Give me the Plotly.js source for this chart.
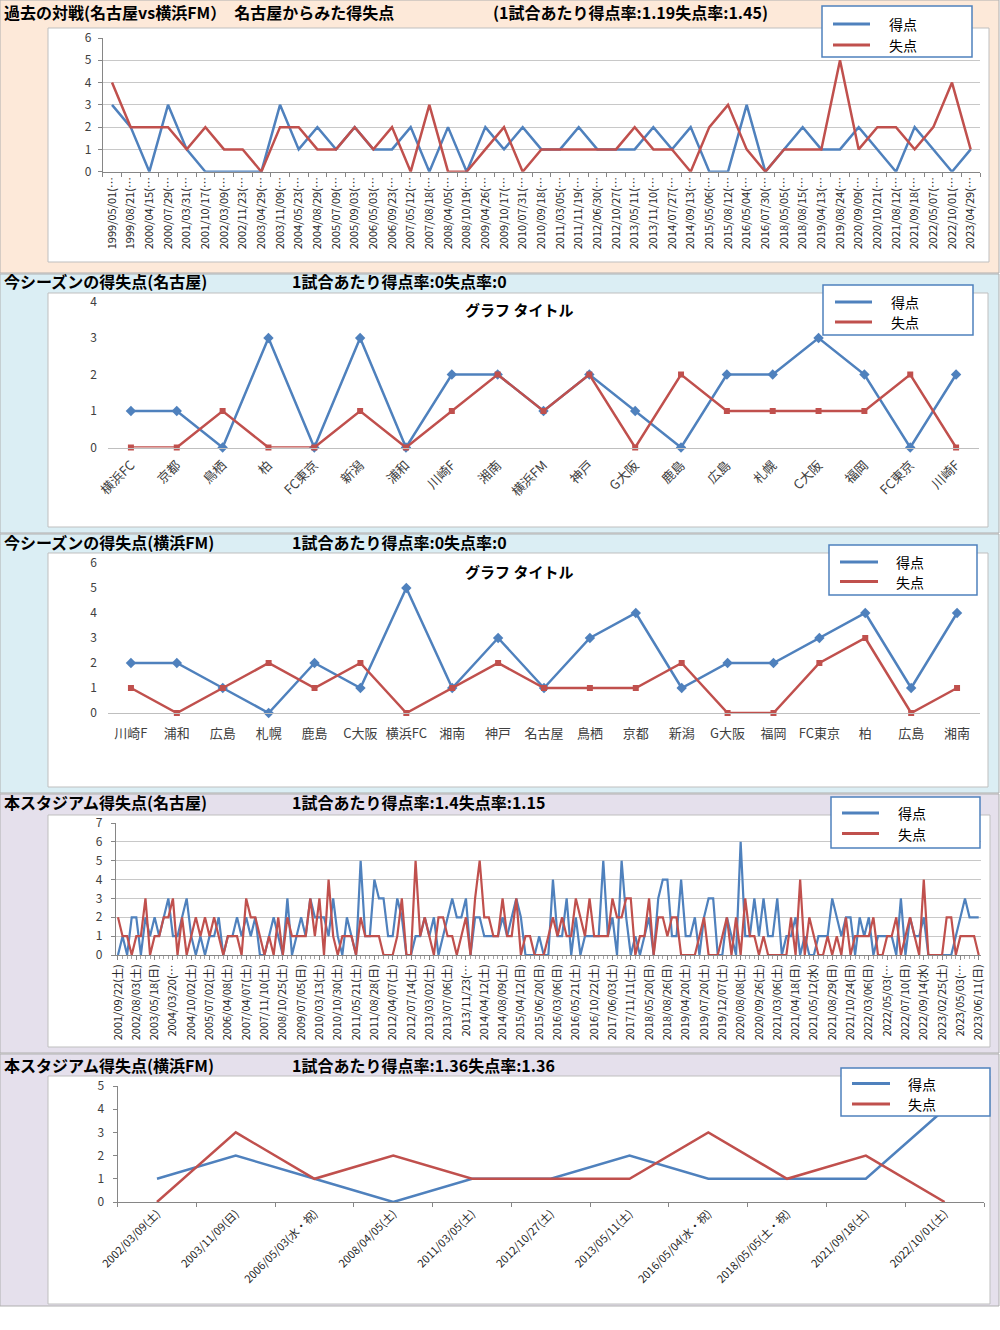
<!DOCTYPE html>
<html><head><meta charset="utf-8">
<script src="https://cdn.plot.ly/plotly-3.0.1.min.js"></script>
<style>html,body{margin:0;padding:0;background:#fff}#chart{width:1000px;height:1330px}</style>
</head><body><div id="chart"></div>
<script>
// ---------- Panel 1: head-to-head history (Nagoya view) ----------
const h2hDates = ["1999/05/01(…","1999/08/21(…","2000/04/15(…","2000/07/29(…","2001/03/31(…","2001/10/17(…","2002/03/09(…","2002/11/23(…","2003/04/29(…","2003/11/09(…","2004/05/23(…","2004/08/29(…","2005/07/09(…","2005/09/03(…","2006/05/03(…","2006/09/23(…","2007/05/12(…","2007/08/18(…","2008/04/05(…","2008/10/19(…","2009/04/26(…","2009/10/17(…","2010/07/31(…","2010/09/18(…","2011/03/05(…","2011/11/19(…","2012/06/30(…","2012/10/27(…","2013/05/11(…","2013/11/10(…","2014/07/27(…","2014/09/13(…","2015/05/06(…","2015/08/12(…","2016/05/04(…","2016/07/30(…","2018/05/05(…","2018/08/15(…","2019/04/13(…","2019/08/24(…","2020/09/09(…","2020/10/21(…","2021/08/12(…","2021/09/18(…","2022/05/07(…","2022/10/01(…","2023/04/29(…"];
const h2hFor     = [3,2,0,3,1,0,0,0,0,3, 1,2,1,2,1,1,2,0,2,0, 2,1,2,1,1,2,1,1,1,2, 1,2,0,0,3,0,1,2,1,1, 2,1,0,2,1,0,1];
const h2hAgainst = [4,2,2,2,1,2,1,1,0,2, 2,1,1,2,1,2,0,3,0,0, 1,2,0,1,1,1,1,1,2,1, 1,0,2,3,1,0,1,1,1,5, 1,2,2,1,2,4,1];

// ---------- Panel 2: this season (Nagoya) ----------
const nagoyaOpp     = ["横浜FC","京都","鳥栖","柏","FC東京","新潟","浦和","川崎F","湘南","横浜FM","神戸","G大阪","鹿島","広島","札幌","C大阪","福岡","FC東京","川崎F"];
const nagoyaFor     = [1,1,0,3,0,3,0,2,2,1,2,1,0,2,2,3,2,0,2];
const nagoyaAgainst = [0,0,1,0,0,1,0,1,2,1,2,0,2,1,1,1,1,2,0];

// ---------- Panel 3: this season (Yokohama FM) ----------
const yfmOpp     = ["川崎F","浦和","広島","札幌","鹿島","C大阪","横浜FC","湘南","神戸","名古屋","鳥栖","京都","新潟","G大阪","福岡","FC東京","柏","広島","湘南"];
const yfmFor     = [2,2,1,0,2,1,5,1,3,1,3,4,1,2,2,3,4,1,4];
const yfmAgainst = [1,0,1,2,1,2,0,1,2,1,1,1,2,0,0,2,3,0,1];

// ---------- Panel 4: this stadium (Nagoya), one label every 4 matches ----------
const stadiumNagoyaLabels = ["2001/09/22(土)","2002/08/03(土)","2003/05/18(日)","2004/03/20(…","2004/10/02(土)","2005/07/02(土)","2006/04/08(土)","2007/04/07(土)","2007/11/10(土)","2008/10/25(土)","2009/07/05(日)","2010/03/13(土)","2010/10/30(土)","2011/05/21(土)","2011/08/28(日)","2012/04/07(土)","2012/07/14(土)","2013/03/02(土)","2013/07/06(土)","2013/11/23(…","2014/04/12(土)","2014/08/09(土)","2015/04/12(日)","2015/06/20(日)","2016/03/06(日)","2016/05/21(土)","2016/10/22(土)","2017/06/03(土)","2017/11/11(土)","2018/05/20(日)","2018/08/26(日)","2019/04/20(土)","2019/07/20(土)","2019/12/07(土)","2020/08/08(土)","2020/09/26(土)","2021/03/06(土)","2021/04/18(日)","2021/05/12(水)","2021/08/29(日)","2021/10/24(日)","2022/03/06(日)","2022/05/03(…","2022/07/10(日)","2022/09/14(水)","2023/02/25(土)","2023/05/03(…","2023/06/11(日)"];
const stadiumNagoyaFor = [
 0,1,0,2,2,0,2,1,2,1, 2,3,1,1,2,3,1,0,1,0, 1,1,2,0,1,1,2,1,2,1, 2,0,0,1,2,1,0,3,0,1,
 2,1,3,2,2,2,1,3,1,0, 2,1,0,5,1,1,4,3,3,1, 1,3,2,0,0,1,1,2,1,2, 0,1,2,3,2,2,3,0,2,2,
 1,1,1,1,2,1,2,3,2,0, 0,0,1,0,0,4,1,1,3,0, 2,0,1,1,1,1,5,1,2,0, 5,2,0,1,0,1,2,0,3,4,
 4,1,1,4,1,1,2,0,2,3, 3,0,0,2,1,0,6,1,1,3, 1,3,1,1,3,0,1,1,2,0, 1,0,0,1,1,1,3,2,1,2,
 2,0,2,1,2,0,1,1,1,1, 0,3,0,2,1,1,2,0,0,0, 0,0,0,1,2,3,2,2,2];
const stadiumNagoyaAgainst = [
 2,1,1,0,1,1,3,0,1,1, 2,2,3,0,2,0,1,2,1,2, 1,2,1,0,1,1,1,0,3,2, 2,1,0,1,0,2,0,2,1,1,
 1,1,3,1,3,0,4,1,0,1, 1,1,0,2,1,1,1,1,0,0, 0,1,3,0,0,5,1,2,1,0, 2,2,1,1,0,1,2,0,3,5,
 2,2,1,1,3,1,1,3,0,1, 1,0,0,0,1,2,1,2,1,1, 3,2,1,3,1,1,1,1,3,2, 2,3,3,0,1,1,3,0,2,2,
 1,2,2,0,0,0,0,1,2,0, 0,0,1,2,0,2,0,3,1,1, 0,1,0,0,0,0,0,2,0,4, 0,2,1,0,0,1,0,1,0,2,
 0,1,1,1,1,2,0,0,1,1, 2,0,1,2,1,0,4,0,0,0, 0,2,2,0,1,1,1,1,0];

// ---------- Panel 5: this stadium (Yokohama FM) ----------
const stadiumYfmDates   = ["2002/03/09(土)","2003/11/09(日)","2006/05/03(水・祝)","2008/04/05(土)","2011/03/05(土)","2012/10/27(土)","2013/05/11(土)","2016/05/04(水・祝)","2018/05/05(土・祝)","2021/09/18(土)","2022/10/01(土)"];
const stadiumYfmFor     = [1,2,1,0,1,1,2,1,1,1,4];
const stadiumYfmAgainst = [0,3,1,2,1,1,1,3,1,2,0];

// ---------- styling ----------
const F = '"Noto Sans CJK JP","Noto Sans",sans-serif';
const BLUE = '#4F81BD', RED = '#C0504D';
const W = 1000, H = 1330;
const px = v => v / W, py = v => 1 - v / H;
const shapes = [], annotations = [];

function rect(x0, y0, x1, y1, fill, line, lw, layer) {
  shapes.push({type:'rect', xref:'paper', yref:'paper', x0:px(x0), x1:px(x1), y0:py(y1), y1:py(y0),
    fillcolor:fill, line:{color:line, width:lw}, layer:layer || 'below'});
}
function seg(x0, y0, x1, y1, color, w) {
  shapes.push({type:'line', xref:'paper', yref:'paper', x0:px(x0), x1:px(x1), y0:py(y0), y1:py(y1),
    line:{color:color, width:w}, layer:'above'});
}
function text(t, x, y, size, bold, anchor) {
  annotations.push({text:t, xref:'paper', yref:'paper', x:px(x), y:py(y), xanchor:anchor || 'left', yanchor:'middle',
    showarrow:false, borderpad:0, font:{family:F, size:size, color:'#000', weight:bold ? 700 : 400}});
}
function legendBox(bx0, by0, bx1, by1, ly1, ly2, lx0, lx1, tx) {
  rect(bx0, by0, bx1, by1, '#FFFFFF', BLUE, 1.5, 'above');
  seg(lx0, ly1, lx1, ly1, BLUE, 3);
  seg(lx0, ly2, lx1, ly2, RED, 3);
  text('得点', tx, ly1, 14, false);
  text('失点', tx, ly2, 14, false);
}

// background bands
rect(0, 0, 999, 273, '#FDE9D9', '#AFAFAF', 1);
rect(0, 274, 999, 533, '#DBEEF4', '#AFAFAF', 1);
rect(0, 534, 999, 793, '#DBEEF4', '#AFAFAF', 1);
rect(0, 794, 999, 1053, '#E5E0EC', '#AFAFAF', 1);
rect(0, 1054, 999, 1306, '#E5E0EC', '#AFAFAF', 1);
// chart boxes
rect(48, 28, 989, 262, '#FFFFFF', '#BFBFBF', 1);
rect(48, 293, 988, 527, '#FFFFFF', '#BFBFBF', 1);
rect(48, 553, 988, 787, '#FFFFFF', '#BFBFBF', 1);
rect(48, 815, 990, 1047, '#FFFFFF', '#BFBFBF', 1);
rect(48, 1076, 990, 1304, '#FFFFFF', '#BFBFBF', 1);

// panel titles
text('過去の対戦(名古屋vs横浜FM）　名古屋からみた得失点', 3, 12, 16, true);
text('(1試合あたり得点率:1.19失点率:1.45)', 492, 12, 16, true);
text('今シーズンの得失点(名古屋)', 3, 281, 16, true);
text('1試合あたり得点率:0失点率:0', 291, 281, 16, true);
text('グラフ タイトル', 519, 310, 15, true, 'center');
text('今シーズンの得失点(横浜FM)', 3, 542, 16, true);
text('1試合あたり得点率:0失点率:0', 291, 542, 16, true);
text('グラフ タイトル', 519, 571, 15, true, 'center');
text('本スタジアム得失点(名古屋)', 3, 802, 16, true);
text('1試合あたり得点率:1.4失点率:1.15', 291, 802, 16, true);
text('本スタジアム得失点(横浜FM)', 3, 1065, 16, true);
text('1試合あたり得点率:1.36失点率:1.36', 291, 1065, 16, true);

// legends
legendBox(822, 6, 972, 57, 24, 45, 833, 870, 888);
legendBox(823, 285, 973, 335, 302, 322, 835, 872, 890);
legendBox(829, 545, 977, 595, 562, 581.5, 840, 878, 895);
legendBox(831, 797, 980, 848, 813, 833.5, 842, 879, 897);
legendBox(841, 1068, 990, 1116, 1083.5, 1104, 852, 890, 907);

const tickFont = {family:F, size:12, color:'#404040'};
const xFont = {family:F, size:13, color:'#404040'};
const AX = '#868686', GRID = '#C8C8C8';

const idx2 = nagoyaOpp.map((_, i) => i);
const idx3 = yfmOpp.map((_, i) => i);
const tick4 = stadiumNagoyaLabels.map((_, k) => k * 4);

const traces = [
  {x:h2hDates, y:h2hFor, name:'得点', mode:'lines', line:{color:BLUE, width:2.5}, xaxis:'x', yaxis:'y'},
  {x:h2hDates, y:h2hAgainst, name:'失点', mode:'lines', line:{color:RED, width:2.5}, xaxis:'x', yaxis:'y'},
  {x:idx2, y:nagoyaFor, name:'得点', mode:'lines+markers', line:{color:BLUE, width:2.5}, marker:{symbol:'diamond', size:8, color:BLUE}, cliponaxis:false, xaxis:'x2', yaxis:'y2'},
  {x:idx2, y:nagoyaAgainst, name:'失点', mode:'lines+markers', line:{color:RED, width:2.5}, marker:{symbol:'square', size:6, color:RED}, cliponaxis:false, xaxis:'x2', yaxis:'y2'},
  {x:idx3, y:yfmFor, name:'得点', mode:'lines+markers', line:{color:BLUE, width:2.5}, marker:{symbol:'diamond', size:8, color:BLUE}, cliponaxis:false, xaxis:'x3', yaxis:'y3'},
  {x:idx3, y:yfmAgainst, name:'失点', mode:'lines+markers', line:{color:RED, width:2.5}, marker:{symbol:'square', size:6, color:RED}, cliponaxis:false, xaxis:'x3', yaxis:'y3'},
  {y:stadiumNagoyaFor, name:'得点', mode:'lines', line:{color:BLUE, width:2.2}, xaxis:'x4', yaxis:'y4'},
  {y:stadiumNagoyaAgainst, name:'失点', mode:'lines', line:{color:RED, width:2.2}, xaxis:'x4', yaxis:'y4'},
  {x:stadiumYfmDates, y:stadiumYfmFor, name:'得点', mode:'lines', line:{color:BLUE, width:2.5}, cliponaxis:false, xaxis:'x5', yaxis:'y5'},
  {x:stadiumYfmDates, y:stadiumYfmAgainst, name:'失点', mode:'lines', line:{color:RED, width:2.5}, cliponaxis:false, xaxis:'x5', yaxis:'y5'}
];

const layout = {
  width:W, height:H, margin:{l:0, r:0, t:0, b:0},
  paper_bgcolor:'#FFFFFF', plot_bgcolor:'rgba(0,0,0,0)',
  showlegend:false, shapes:shapes, annotations:annotations,
  font:{family:F},
  // panel 1
  xaxis:{domain:[px(102.7), px(980)], anchor:'y', type:'category', range:[-0.5, 46.5], tickangle:-90,
    tickfont:{family:F, size:11, color:'#262626'}, showline:true, linecolor:AX, ticks:'outside', ticklen:4,
    tickcolor:AX, tickson:'boundaries', showgrid:false, zeroline:false},
  yaxis:{domain:[py(171.7), py(38)], anchor:'x', range:[0, 6], dtick:1, showgrid:true, gridcolor:GRID,
    showline:true, linecolor:AX, ticks:'outside', ticklen:4, tickcolor:AX, tickfont:tickFont, zeroline:false, ticklabelstandoff:4},
  // panel 2
  xaxis2:{domain:[px(108), px(979)], anchor:'y2', range:[-0.5, 18.5], tickmode:'array', tickvals:idx2, ticktext:nagoyaOpp,
    tickangle:-45, tickfont:xFont, showline:true, linecolor:'#BFBFBF', ticks:'', showgrid:false, zeroline:false, ticklabelstandoff:4},
  yaxis2:{domain:[py(447.5), py(301.5)], anchor:'x2', range:[0, 4], dtick:1, showgrid:false, showline:false,
    tickfont:tickFont, zeroline:false, ticklabelstandoff:10},
  // panel 3
  xaxis3:{domain:[px(108), px(980)], anchor:'y3', range:[-0.5, 18.5], tickmode:'array', tickvals:idx3, ticktext:yfmOpp,
    tickangle:0, tickfont:xFont, showline:true, linecolor:'#BFBFBF', ticks:'', showgrid:false, zeroline:false, ticklabelstandoff:8},
  yaxis3:{domain:[py(713), py(563)], anchor:'x3', range:[0, 6], dtick:1, showgrid:false, showline:false,
    tickfont:tickFont, zeroline:false, ticklabelstandoff:10},
  // panel 4
  xaxis4:{domain:[px(115.7), px(981)], anchor:'y4', range:[-0.5, 188.5], tickmode:'array', tickvals:tick4, ticktext:stadiumNagoyaLabels,
    tickangle:-90, tickfont:{family:F, size:11, color:'#262626'}, showline:true, linecolor:AX, ticks:'outside', ticklen:4, tickcolor:AX,
    minor:{tick0:0, dtick:1, ticks:'outside', ticklen:3, tickcolor:'#A6A6A6', showgrid:false},
    showgrid:false, zeroline:false},
  yaxis4:{domain:[py(955), py(823)], anchor:'x4', range:[0, 7], dtick:1, showgrid:true, gridcolor:GRID,
    showline:true, linecolor:AX, ticks:'outside', ticklen:4, tickcolor:AX, tickfont:tickFont, zeroline:false, ticklabelstandoff:6},
  // panel 5
  xaxis5:{domain:[px(117.6), px(984)], anchor:'y5', type:'category', range:[-0.5, 10.5], tickangle:-45,
    tickfont:{family:F, size:11, color:'#262626'}, showline:true, linecolor:AX, ticks:'outside', ticklen:4, tickcolor:AX,
    tickson:'boundaries', showgrid:false, zeroline:false},
  yaxis5:{domain:[py(1202), py(1086)], anchor:'x5', range:[0, 5], dtick:1, showgrid:false,
    showline:true, linecolor:AX, ticks:'outside', ticklen:4, tickcolor:AX, tickfont:tickFont, zeroline:false, ticklabelstandoff:6}
};

Plotly.newPlot('chart', traces, layout, {staticPlot:true, displayModeBar:false});
</script>
</body></html>
